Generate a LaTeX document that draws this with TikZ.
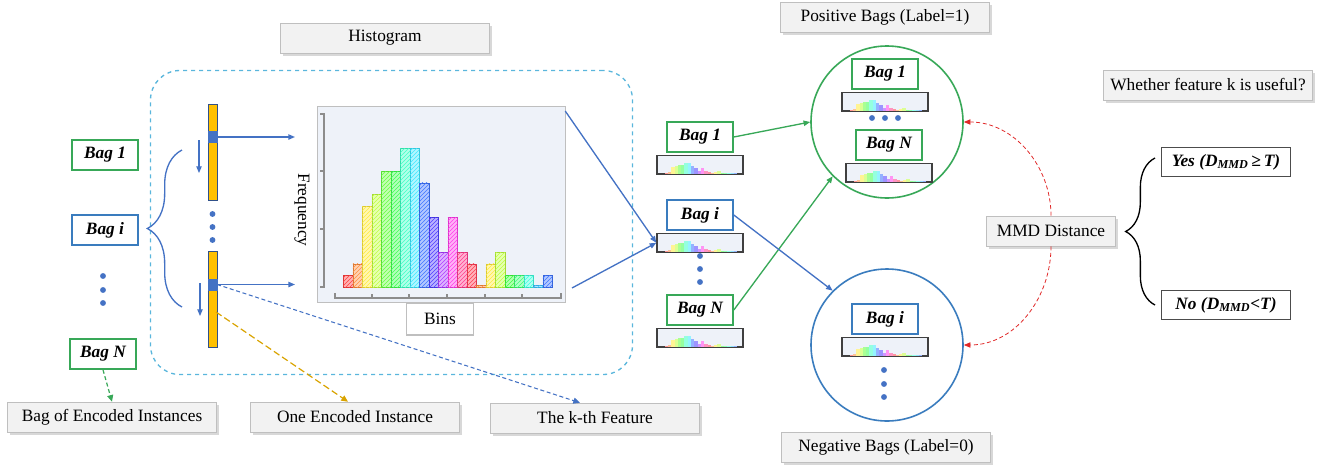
\PassOptionsToPackage{rgb}{xcolor}
\documentclass[tikz,border=0pt]{standalone}
\usepackage{fontspec}
\setmainfont{Liberation Serif}
\usepackage{xcolor}
\usetikzlibrary{arrows.meta,positioning,shadows,patterns,decorations.pathreplacing,calc}
\definecolor{bagg}{RGB}{56,168,88}
\definecolor{bagb}{RGB}{58,124,190}
\definecolor{arb}{RGB}{68,114,196}
\definecolor{gold}{RGB}{255,192,0}
\definecolor{sky}{RGB}{90,182,220}
\definecolor{paleg}{RGB}{242,242,242}
\definecolor{rule}{RGB}{191,191,191}
\definecolor{panelc}{RGB}{238,242,249}
\definecolor{mmdred}{RGB}{224,40,40}
% bin / count / hue
\newcommand{\histdata}{1/1/0,2/2/25,3/7/54,4/8/80,5/10/108,6/10/126,7/12/162,8/12/187,9/9/223,10/6/245,11/3/274,12/6/306,13/3/335,14/2/353,15/0.15/25,16/2/54,17/3/80,18/1/120,19/1/137,20/1/170,21/0.15/198,22/1/223}
\newcommand{\huecolor}[3]{\convertcolorspec{Hsb}{#2,#3,1}{rgb}\huespec\definecolor{#1}{rgb}{\huespec}}
\newcommand{\minibars}[1]{%
  \foreach \n/\h/\hue in \histdata {
    \huecolor{barc}{\hue}{0.7}
    \fill[barc!60] ($(#1.south west)+({5+\n*3.3},-1.2)$) rectangle ++(3.3,{-\h*0.9});
  }}

\begin{document}
\begin{tikzpicture}[x=0.75pt,y=-0.75pt,
      font=\fontsize{13}{15}\selectfont,
      tag/.style={draw=rule,fill=paleg,minimum width=157pt,minimum height=22.5pt,inner sep=2pt,
                  drop shadow={shadow xshift=2pt,shadow yshift=-2pt,fill=black!30}},
      bagbox/.style={draw=bagg,line width=1.2pt,fill=white,minimum width=49.5pt,minimum height=22.5pt,
                     inner sep=1pt,font=\fontsize{13}{15}\selectfont\bfseries\itshape},
      bagblue/.style={bagbox,draw=bagb},
      strip/.style={draw=black!75,line width=1pt,fill=panelc,minimum width=64.5pt,minimum height=14pt,inner sep=0pt},
      answer/.style={draw=black!70,line width=1pt,fill=white,minimum width=97pt,minimum height=22pt,
                     inner sep=1pt,font=\fontsize{13}{15}\selectfont\bfseries\itshape},
      featbar/.style={draw=arb!70!black,fill=gold,minimum width=6.5pt,minimum height=72pt,inner sep=0pt},
      cell/.style={fill=arb,draw=arb,minimum width=6.5pt,minimum height=8pt,inner sep=0pt},
      group/.style={circle,line width=1.2pt,minimum size=114pt,inner sep=0pt},
      ar/.style={-{Triangle[length=5pt,width=4pt]},line width=1pt,color=arb},
      dar/.style={-{Triangle[length=5pt,width=4.5pt]},line width=0.9pt,dash pattern=on 3pt off 2pt},
      mmdar/.style={-{Triangle[length=5pt,width=4pt]},line width=0.6pt,color=mmdred,densely dashed},
      brc/.style={decorate,line width=1pt}]
      \useasboundingbox (0,0) rectangle (1322,465);
      % histogram block
      \node[draw=sky,dashed,line width=1pt,rounded corners=22pt,minimum width=361.5pt,minimum height=228pt] (frame) at (391.5,222.5) {};
      \node[tag] (histlab) at (385,38) {Histogram};
      \node[draw=rule,fill=panelc,minimum width=186pt,minimum height=147pt,inner sep=0pt] (hist) at (441,204) {};
      \foreach \n/\h/\hue in \histdata {
        \huecolor{barc}{\hue}{0.75}
        \draw[barc!85!black,line width=0.4pt,fill=barc!40,postaction={pattern=north east lines,pattern color=barc}]
          ({333.8+\n*9.5},287) rectangle ++(9.5,{-\h*11.57});
      }
      \draw[black!45,line width=0.8pt] (320,114) -- (324,114) -- (324,287) -- (320,287);
      \foreach \y in {171,229} \draw[black!45,line width=0.8pt] (320,\y) -- (324,\y);
      \draw[black!45,line width=0.8pt] (335,293) -- (335,298) -- (561,298) -- (561,293);
      \foreach \x in {372,409,447,485,522} \draw[black!45,line width=0.8pt] (\x,298) -- (\x,294);
      \node[rotate=-90] (freq) at (302,210) {Frequency};
      \node[draw=rule,fill=white,line width=1pt,minimum width=50pt,minimum height=24pt] (bins) at (440,319) {Bins};
      % encoded instances
      \node[featbar] (bar1) at (212.5,152) {};
      \node[cell] (cell1) at (212.5,137) {};
      \node[featbar] (bar2) at (212.5,299.5) {};
      \node[cell] (cell2) at (212.5,284.5) {};
      \foreach \y in {214,227,240} \fill[arb] (212.5,\y) circle (2.2pt);
      \coordinate (c1end) at (295,137); \coordinate (c2end) at (295,284.5);
      \coordinate (d1a) at (199,140); \coordinate (d1b) at (199,173);
      \coordinate (d2a) at (200,283); \coordinate (d2b) at (200,316);
      \draw[ar] (cell1.east) -- (c1end); \draw[ar] (cell2.east) -- (c2end);
      \draw[ar,line width=0.8pt] (d1a) -- (d1b); \draw[ar,line width=0.8pt] (d2a) -- (d2b);
      \draw[brc,color=arb,decoration={brace,amplitude=26pt}] (182,307) -- (182,150);
      % left bags
      \node[bagbox] (b1l) at (105,155) {Bag 1};
      \node[bagblue] (bil) at (105,230) {Bag i};
      \node[bagbox] (bnl) at (103,354) {Bag N};
      \foreach \y in {276,290,303} \fill[arb] (103,\y) circle (2.2pt);
      % bottom tags
      \node[tag] (boe) at (112,417) {Bag of Encoded Instances};
      \node[tag] (one) at (355,417) {One Encoded Instance};
      \node[tag] (kth) at (595,418) {The k-th Feature};
      \coordinate (g0) at (216,312);
      \draw[dar,color=bagg] (bnl.south) -- (boe.north);
      \draw[dar,color=gold!85!black,dash pattern=on 5pt off 2.5pt] (g0) -- ($(one.north)+(-7,0)$);
      \draw[dar,color=arb,line width=0.8pt] (cell2.east) -- ($(kth.north)+(-15,0)$);
      % middle bags
      \node[bagbox] (b1m) at (700,137) {Bag 1};
      \node[strip,below=1.5pt of b1m] (s1m) {}; \minibars{s1m}
      \node[bagblue] (bim) at (700,215) {Bag i};
      \node[strip,below=1.5pt of bim] (sim) {}; \minibars{sim}
      \foreach \y in {256,269,282} \fill[arb] (700,\y) circle (2.2pt);
      \node[bagbox] (bnm) at (700,310) {Bag N};
      \node[strip,below=1.5pt of bnm] (snm) {}; \minibars{snm}
      \coordinate (hout) at (572,288);
      \draw[ar] ([yshift=-4pt]hist.north east) -- (sim.west);
      \draw[ar] (hout) -- (sim.west);
      % positive / negative groups
      \node[tag] (poslab) at (885,17) {Positive Bags (Label=1)};
      \node[tag] (neglab) at (886,447) {Negative Bags (Label=0)};
      \node[group,draw=bagg] (pos) at (887,122) {};
      \node[group,draw=bagb] (neg) at (887,345) {};
      \node[bagbox] (b1p) at (885,74) {Bag 1};
      \node[strip,below=1.5pt of b1p] (s1p) {}; \minibars{s1p}
      \foreach \x in {872,885,898} \fill[arb] (\x,118) circle (2.2pt);
      \node[bagbox] (bnp) at (889,145) {Bag N};
      \node[strip,below=1.5pt of bnp] (snp) {}; \minibars{snp}
      \node[bagblue] (bin) at (885,319) {Bag i};
      \node[strip,below=1.5pt of bin] (sin) {}; \minibars{sin}
      \foreach \y in {370,384,397} \fill[arb] (884,\y) circle (2.2pt);
      \draw[ar,color=bagg] (b1m.east) -- (pos.west);
      \draw[ar,color=bagg] (bnm.east) -- (pos.225);
      \draw[ar] (bim.east) -- (neg.135);
      % decision
      \node[tag,minimum width=97pt] (mmd) at (1051,231) {MMD Distance};
      \node[tag] (ask) at (1208,85) {Whether feature k is useful?};
      \node[answer] (yes) at (1226,162) {Yes (D\textsubscript{MMD}\,≥\,T)};
      \node[answer] (no) at (1226,305) {No (D\textsubscript{MMD}<T)};
      \draw[mmdar] (mmd.north) to[out=90,in=0] (pos.east);
      \draw[mmdar] (mmd.south) to[out=-90,in=0] (neg.east);
      \draw[brc,decoration={brace,amplitude=22pt}] (1155,305) -- (1155,158);
    \end{tikzpicture}
\end{document}
